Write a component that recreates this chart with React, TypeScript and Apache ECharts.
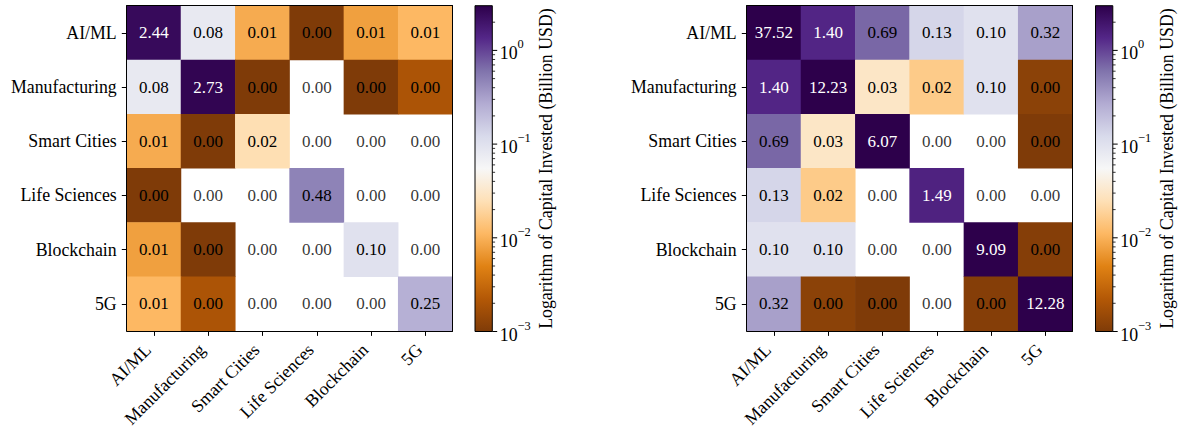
import React, { useEffect, useRef } from "react";
import * as echarts from "echarts";

// Sectors shown on both axes of each matrix
const categories = ["AI/ML", "Manufacturing", "Smart Cities", "Life Sciences", "Blockchain", "5G"];

// Capital invested (billion USD), rows follow `categories` top to bottom
const leftValues = [
  [2.44, 0.08, 0.0091, 0.0008, 0.0077, 0.011],
  [0.08, 2.73, 0.0008, 0, 0.0008, 0.002],
  [0.0091, 0.0008, 0.024, 0, 0, 0],
  [0.0008, 0, 0, 0.48, 0, 0],
  [0.0077, 0.0008, 0, 0, 0.1, 0],
  [0.011, 0.002, 0, 0, 0, 0.25],
];

const rightValues = [
  [37.52, 1.4, 0.69, 0.13, 0.1, 0.32],
  [1.4, 12.23, 0.03, 0.016, 0.1, 0.0012],
  [0.69, 0.03, 6.07, 0, 0, 0.0009],
  [0.13, 0.016, 0, 1.49, 0, 0],
  [0.1, 0.1, 0, 0, 9.09, 0.0011],
  [0.32, 0.0012, 0.0009, 0, 0.0011, 12.28],
];

// Colour scale limits and decade ticks (log10) of the colour bar
const VMIN = 0.001;
const VMAX = 3;
const decadeTicks = [-3, -2, -1, 0];
const colorbarLabel = "Logarithm of Capital Invested (Billion USD)";

// PuOr diverging palette, low to high
const puor = [
  "#7f3b08", "#b35806", "#e08214", "#fdb863", "#fee0b6", "#f7f7f7",
  "#d8daeb", "#b2abd2", "#8073ac", "#542788", "#2d004b",
];

const FONT = "'Liberation Serif', 'DejaVu Serif', serif";
const LABEL_SIZE = 17.8;
const CELL_SIZE = 17;
const LOG_MIN = Math.log10(VMIN);
const LOG_MAX = Math.log10(VMAX);

// positive entries: coloured on the log scale (clipped to the colour range)
function positiveCells(matrix: number[][]) {
  const out: any[] = [];
  matrix.forEach((row, i) => {
    row.forEach((v, j) => {
      if (v <= 0) return;
      const lv = Math.min(LOG_MAX, Math.max(LOG_MIN, Math.log10(v)));
      out.push({ value: [j, i, lv, v], label: { color: v > 1 ? "#ffffff" : "#000000" } });
    });
  });
  return out;
}

// zero entries have no log value: left blank, only annotated
function zeroCells(matrix: number[][]) {
  const out: any[] = [];
  matrix.forEach((row, i) => {
    row.forEach((v, j) => {
      if (v <= 0) out.push({ value: [j, i, v] });
    });
  });
  return out;
}

// minor ticks at 2..9 x 10^n inside the colour range
function minorTicks() {
  const res: number[] = [];
  for (let d = -3; d <= 0; d++) {
    for (let m = 2; m <= 9; m++) {
      const l = d + Math.log10(m);
      if (l < LOG_MAX - 1e-9) res.push(l);
    }
  }
  return res;
}

function colorbarSeries(axisIdx: number) {
  const minors = minorTicks();
  return {
    type: "custom",
    xAxisIndex: axisIdx,
    yAxisIndex: axisIdx,
    silent: true,
    data: [[0, LOG_MIN]],
    renderItem: (params: any, api: any) => {
      const cs = params.coordSys;
      const x0 = cs.x;
      const w = cs.width;
      const yTop = api.coord([0, LOG_MAX])[1];
      const yBot = api.coord([0, LOG_MIN])[1];
      const stops = puor.map((c, k) => ({ offset: k / (puor.length - 1), color: c }));
      const children: any[] = [
        {
          type: "rect",
          shape: { x: x0, y: yTop, width: w, height: yBot - yTop },
          style: { fill: new echarts.graphic.LinearGradient(0, 1, 0, 0, stops) },
        },
        {
          type: "rect",
          shape: { x: x0, y: yTop, width: w, height: yBot - yTop },
          style: { fill: "none", stroke: "#000", lineWidth: 1 },
        },
      ];
      decadeTicks.forEach((t) => {
        const y = api.coord([0, t])[1];
        children.push({
          type: "line",
          shape: { x1: x0 + w, y1: y, x2: x0 + w + 4.9, y2: y },
          style: { stroke: "#000", lineWidth: 1 },
        });
      });
      minors.forEach((t) => {
        const y = api.coord([0, t])[1];
        children.push({
          type: "line",
          shape: { x1: x0 + w, y1: y, x2: x0 + w + 2.8, y2: y },
          style: { stroke: "#000", lineWidth: 0.8 },
        });
      });
      return { type: "group", children };
    },
  };
}

function decadeLabel(val: number) {
  if (Math.abs(val - Math.round(val)) > 1e-9) return "";
  const n = Math.round(val);
  const exp = n < 0 ? "\u2212" + -n : String(n);
  return `{b|10}{s|${exp}}`;
}

export default function App() {
  const ref = useRef<HTMLDivElement>(null);

  useEffect(() => {
    if (!ref.current) return;
    const chart = echarts.init(ref.current, undefined, { renderer: "svg" });

    const heatGrids = [
      { left: 126.7, top: 5.7, width: 325.8, height: 325.8 },
      { left: 746.7, top: 5.7, width: 325.8, height: 325.8 },
    ];
    const barGrids = [
      { left: 475, top: 5.7, width: 17.3, height: 325.8 },
      { left: 1095.5, top: 5.7, width: 17.3, height: 325.8 },
    ];

    const xAxes: any[] = [];
    const yAxes: any[] = [];
    heatGrids.forEach((_, g) => {
      xAxes.push({
        type: "category",
        gridIndex: g,
        data: categories,
        z: 5,
        axisLine: { show: true, lineStyle: { color: "#000", width: 1 } },
        axisTick: { show: true, alignWithLabel: true, length: 4.9, lineStyle: { color: "#000" } },
        axisLabel: {
          interval: 0,
          rotate: 45,
          margin: 9.8,
          padding: [0, 8.5, 0, 0],
          fontSize: LABEL_SIZE,
          fontFamily: FONT,
          color: "#000",
        },
        splitLine: { show: false },
      });
      xAxes.push({
        type: "category",
        gridIndex: g,
        position: "top",
        data: categories,
        z: 5,
        axisLine: { show: true, lineStyle: { color: "#000", width: 1 } },
        axisTick: { show: false },
        axisLabel: { show: false },
      });
      yAxes.push({
        type: "category",
        gridIndex: g,
        data: categories,
        inverse: true,
        z: 5,
        axisLine: { show: true, lineStyle: { color: "#000", width: 1 } },
        axisTick: { show: true, alignWithLabel: true, length: 4.9, lineStyle: { color: "#000" } },
        axisLabel: { interval: 0, margin: 10, fontSize: LABEL_SIZE, fontFamily: FONT, color: "#000" },
        splitLine: { show: false },
      });
      yAxes.push({
        type: "category",
        gridIndex: g,
        position: "right",
        data: categories,
        inverse: true,
        z: 5,
        axisLine: { show: true, lineStyle: { color: "#000", width: 1 } },
        axisTick: { show: false },
        axisLabel: { show: false },
      });
    });
    barGrids.forEach((_, b) => {
      const gi = 2 + b;
      xAxes.push({ type: "value", gridIndex: gi, min: 0, max: 1, show: false });
      yAxes.push({
        type: "value",
        gridIndex: gi,
        position: "right",
        min: LOG_MIN,
        max: LOG_MAX,
        interval: 1,
        axisLine: { show: false },
        axisTick: { show: false },
        splitLine: { show: false },
        axisLabel: {
          margin: 7.5,
          formatter: decadeLabel,
          rich: {
            b: { fontSize: LABEL_SIZE, fontFamily: FONT, color: "#000", verticalAlign: "bottom", lineHeight: 24 },
            s: { fontSize: 12.4, fontFamily: FONT, color: "#000", verticalAlign: "top", lineHeight: 13 },
          },
        },
        name: colorbarLabel,
        nameLocation: "middle",
        nameRotate: 90,
        nameGap: 45,
        nameTextStyle: { fontSize: LABEL_SIZE, fontFamily: FONT, color: "#000" },
      });
    });

    const heatSeries = (matrix: number[][], axisIdx: number) => ({
      type: "heatmap",
      xAxisIndex: axisIdx,
      yAxisIndex: axisIdx,
      data: positiveCells(matrix),
      label: {
        show: true,
        fontSize: CELL_SIZE,
        fontFamily: FONT,
        formatter: (p: any) => Number(p.value[3]).toFixed(2),
      },
      emphasis: { disabled: true },
    });

    const zeroSeries = (matrix: number[][], axisIdx: number) => ({
      type: "scatter",
      xAxisIndex: axisIdx,
      yAxisIndex: axisIdx,
      data: zeroCells(matrix),
      symbolSize: 1,
      itemStyle: { color: "rgba(255,255,255,0)" },
      silent: true,
      z: 3,
      label: {
        show: true,
        position: "inside",
        fontSize: CELL_SIZE,
        fontFamily: FONT,
        color: "#000",
        formatter: (p: any) => Number(p.value[2]).toFixed(2),
      },
      labelLayout: { hideOverlap: false },
      emphasis: { disabled: true },
    });

    chart.setOption({
      animation: false,
      backgroundColor: "#ffffff",
      grid: [...heatGrids, ...barGrids].map((g) => ({ ...g, containLabel: false })),
      xAxis: xAxes,
      yAxis: yAxes,
      visualMap: [0, 1].map((si) => ({
        type: "continuous",
        show: false,
        seriesIndex: si,
        dimension: 2,
        min: LOG_MIN,
        max: LOG_MAX,
        inRange: { color: puor },
      })),
      series: [
        heatSeries(leftValues, 0),
        heatSeries(rightValues, 2),
        zeroSeries(leftValues, 0),
        zeroSeries(rightValues, 2),
        colorbarSeries(4),
        colorbarSeries(5),
      ],
    });

    return () => chart.dispose();
  }, []);

  return (
    <div
      ref={ref}
      style={{ position: "fixed", left: 0, top: 0, width: 1179, height: 430, background: "#fff" }}
    />
  );
}
